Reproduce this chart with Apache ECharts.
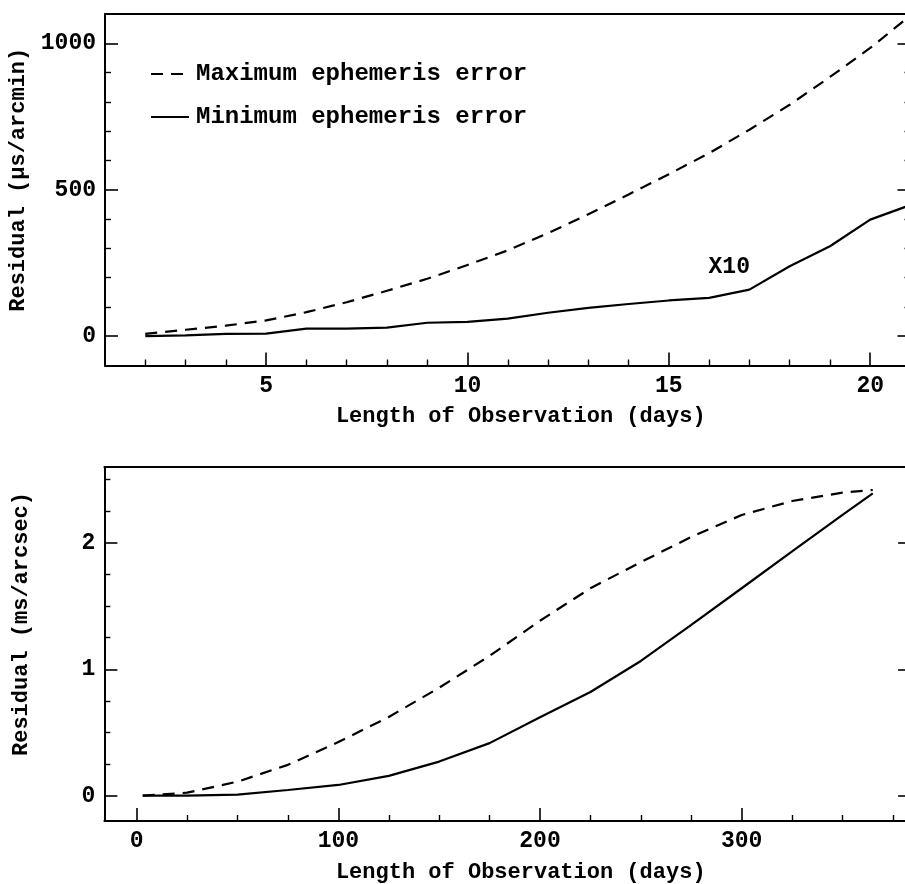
<!DOCTYPE html>
<html><head><meta charset="utf-8">
<script src="https://cdn.jsdelivr.net/npm/echarts@6/dist/echarts.min.js"></script>
<style>html,body{margin:0;padding:0;background:#fff}#c{width:905px;height:884px}</style>
</head><body><div id="c"></div>
<script>
// ---- data ----
const topDays = [2,3,4,5,6,7,8,9,10,11,12,13,14,15,16,17,18,19,20,21];
const topMax  = [8,22,36,54,82,116,155,196,243,293,352,416,484,553,625,705,790,885,984,1095];
const topMin  = [0,3,8,9,26,26,29,46,49,60,80,97,110,122,131,159,239,307,398,448]; // x10

const botDays = [3,25,50,75,100,125,150,175,200,225,250,275,300,325,350,365];
const botMax  = [0,0.024,0.111,0.244,0.424,0.623,0.854,1.106,1.384,1.641,1.848,2.047,2.22,2.331,2.397,2.418];
const botMin  = [0,0.001,0.008,0.045,0.085,0.157,0.27,0.416,0.62,0.82,1.066,1.352,1.641,1.933,2.222,2.392];

// tick positions
const topXMajor = [5,10,15,20];
const topXMinor = [2,3,4,6,7,8,9,11,12,13,14,16,17,18,19];
const topYMajor = [0,500,1000];
const topYMinor = [100,200,300,400,600,700,800,900];
const botXMajor = [0,100,200,300];
const botXMinor = [25,50,75,125,150,175,225,250,275,325,350,375];
const botYMajor = [0,1,2];
const botYMinor = [0.25,0.5,0.75,1.25,1.5,1.75,2.25,2.5];

const seriesNames = ['Maximum ephemeris error','Minimum ephemeris error'];
const annotation = {text:'X10', x:16.5, y:236};

const FONT = '"Liberation Mono","Courier New",monospace';
const BLACK = '#000';
const labelStyle = {fontFamily:FONT, fontSize:23, fontWeight:'bold', color:BLACK};
const nameStyle = {fontFamily:FONT, fontSize:22, fontWeight:'bold', color:BLACK};
const plain = v => String(v);

function pairs(xs, ys){ return xs.map((x,i)=>[x, ys[i]]); }

function xAxes(gi, min, max, majors, minors, name){
  return [
    {type:'value', gridIndex:gi, min, max, position:'bottom',
     axisLine:{onZero:false, lineStyle:{color:BLACK, width:2}},
     axisTick:{inside:true, length:13, customValues:majors, lineStyle:{color:BLACK, width:1.6}},
     axisLabel:Object.assign({customValues:majors, margin:9, formatter:plain, hideOverlap:false}, labelStyle),
     splitLine:{show:false},
     name, nameLocation:'middle', nameGap:40,
     nameTextStyle:Object.assign({padding:[0,0,0,26]}, nameStyle)},
    {type:'value', gridIndex:gi, min, max, position:'bottom',
     axisLine:{show:false, onZero:false},
     axisTick:{inside:true, length:6, customValues:minors, lineStyle:{color:BLACK, width:1.4}},
     axisLabel:{show:false}, splitLine:{show:false}},
    {type:'value', gridIndex:gi, min, max, position:'top',
     axisLine:{onZero:false, lineStyle:{color:BLACK, width:2}},
     axisTick:{show:false}, axisLabel:{show:false}, splitLine:{show:false}}
  ];
}
function yAxes(gi, min, max, majors, minors, name, shift){
  return [
    {type:'value', gridIndex:gi, min, max, position:'left',
     axisLine:{onZero:false, lineStyle:{color:BLACK, width:2}},
     axisTick:{inside:true, length:13, customValues:majors, lineStyle:{color:BLACK, width:1.6}},
     axisLabel:Object.assign({customValues:majors, margin:9, formatter:plain}, labelStyle),
     splitLine:{show:false},
     name, nameLocation:'middle', nameGap:72, nameRotate:90,
     nameTextStyle:Object.assign({padding:[0,0,0,shift]}, nameStyle)},
    {type:'value', gridIndex:gi, min, max, position:'left',
     axisLine:{show:false, onZero:false},
     axisTick:{inside:true, length:6, customValues:minors, lineStyle:{color:BLACK, width:1.4}},
     axisLabel:{show:false}, splitLine:{show:false}},
    {type:'value', gridIndex:gi, min, max, position:'right',
     axisLine:{onZero:false, lineStyle:{color:BLACK, width:2}},
     axisTick:{inside:true, length:13, customValues:majors, lineStyle:{color:BLACK, width:1.6}},
     axisLabel:{show:false}, splitLine:{show:false}},
    {type:'value', gridIndex:gi, min, max, position:'right',
     axisLine:{show:false, onZero:false},
     axisTick:{inside:true, length:6, customValues:minors, lineStyle:{color:BLACK, width:1.4}},
     axisLabel:{show:false}, splitLine:{show:false}}
  ];
}

const dashed = {color:BLACK, width:2.2, type:[12,8]};
const solid = {color:BLACK, width:2.2, type:'solid'};

const option = {
  animation:false,
  backgroundColor:'#fff',
  grid:[
    {left:105, top:14, width:805.5, height:351.5, containLabel:false, outerBoundsMode:'none'},
    {left:104.4, top:467, width:806.7, height:354, containLabel:false, outerBoundsMode:'none'}
  ],
  xAxis:[].concat(
    xAxes(0, 1, 21, topXMajor, topXMinor, 'Length of Observation (days)'),
    xAxes(1, -16, 384, botXMajor, botXMinor, 'Length of Observation (days)')
  ),
  yAxis:[].concat(
    yAxes(0, -100, 1100, topYMajor, topYMinor, 'Residual (\u03bcs/arcmin)', 20),
    yAxes(1, -0.2, 2.6, botYMajor, botYMinor, 'Residual (ms/arcsec)', 40)
  ),
  legend:{
    data:seriesNames, left:145, top:57, orient:'vertical',
    itemWidth:38, itemHeight:14, itemGap:19, selectedMode:false,
    itemStyle:{opacity:0},
    textStyle:{fontFamily:FONT, fontSize:24, fontWeight:'bold', color:BLACK, lineHeight:24, padding:[0,0,0,2]}
  },
  series:[
    {type:'line', name:seriesNames[0], xAxisIndex:0, yAxisIndex:0, data:pairs(topDays, topMax),
     symbol:'none', lineStyle:dashed, itemStyle:{color:BLACK}, silent:true},
    {type:'line', name:seriesNames[1], xAxisIndex:0, yAxisIndex:0, data:pairs(topDays, topMin),
     symbol:'none', lineStyle:solid, itemStyle:{color:BLACK}, silent:true,
     markPoint:{symbol:'circle', symbolSize:1, itemStyle:{color:'rgba(0,0,0,0)'}, silent:true,
       label:{show:true, position:'inside', formatter:annotation.text, fontFamily:FONT, fontSize:23, fontWeight:'bold', color:BLACK},
       data:[{coord:[annotation.x, annotation.y]}]}},
    {type:'line', name:seriesNames[0], xAxisIndex:3, yAxisIndex:4, data:pairs(botDays, botMax),
     symbol:'none', lineStyle:dashed, itemStyle:{color:BLACK}, silent:true},
    {type:'line', name:seriesNames[1], xAxisIndex:3, yAxisIndex:4, data:pairs(botDays, botMin),
     symbol:'none', lineStyle:solid, itemStyle:{color:BLACK}, silent:true}
  ]
};
const chart = echarts.init(document.getElementById('c'));
chart.setOption(option);
</script>
</body></html>
